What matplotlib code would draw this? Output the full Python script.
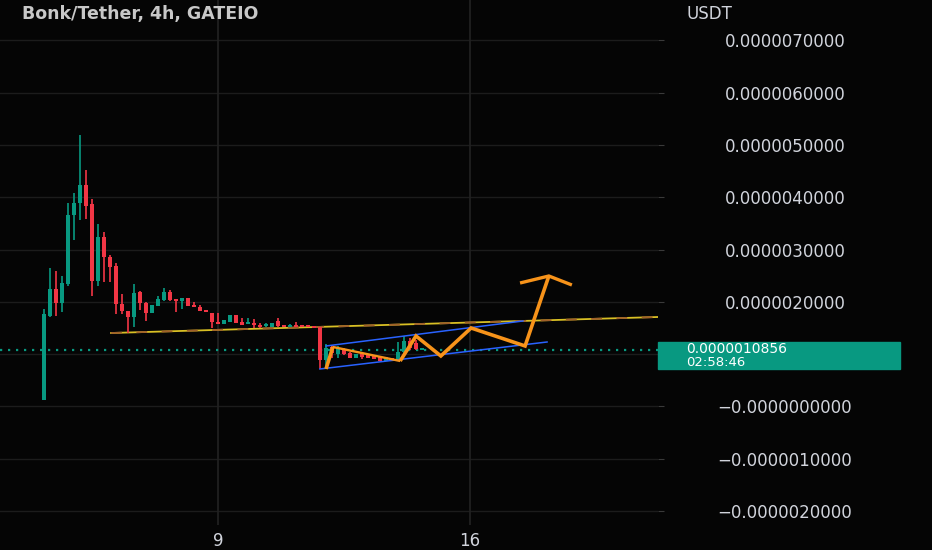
import matplotlib
matplotlib.use("Agg")
import matplotlib.pyplot as plt
from matplotlib.patches import Rectangle
import numpy as np

# 4h candles, prices in micro-USDT (x 1e-6)
first_candle_day = 4 + 1 / 6
candle_step = 1 / 6  # 4 hours in days
scale = 1e-6

opens = [0.124, 1.730, 2.247, 1.979, 2.342, 3.662, 3.891, 4.235, 3.872, 2.400,
         3.241, 2.858, 2.686, 1.960, 1.826, 1.711, 2.189, 1.979, 1.788, 1.922,
         2.036, 2.189, 2.055, 2.017, 2.075, 1.922, 1.902, 1.826, 1.788, 1.616,
         1.577, 1.616, 1.750, 1.616, 1.577, 1.597, 1.558, 1.539, 1.520, 1.635,
         1.558, 1.520, 1.558, 1.539, 1.539, 1.539, 1.520, 0.889, 1.138, 1.004,
         1.099, 1.023, 0.927, 1.023, 0.985, 0.966, 0.946, 0.870, 0.927, 0.889,
         1.042, 1.252, 1.214, 1.080]
highs = [1.864, 2.648, 2.591, 2.495, 3.891, 4.082, 5.191, 4.522, 3.967, 3.489,
         3.336, 2.897, 2.744, 2.151, 1.826, 2.342, 2.208, 1.998, 1.941, 2.113,
         2.266, 2.228, 2.055, 2.075, 2.075, 1.998, 1.941, 1.826, 1.788, 1.788,
         1.654, 1.750, 1.750, 1.692, 1.692, 1.673, 1.597, 1.597, 1.597, 1.692,
         1.558, 1.577, 1.616, 1.539, 1.539, 1.539, 1.520, 1.195, 1.176, 1.157,
         1.119, 1.042, 1.004, 1.023, 0.985, 0.966, 0.946, 0.946, 0.927, 1.233,
         1.348, 1.310, 1.272, 1.099]
lows = [0.124, 1.711, 1.730, 1.807, 2.304, 3.184, 3.566, 3.585, 2.113, 2.304,
        2.380, 2.380, 1.769, 1.769, 1.405, 1.520, 1.845, 1.635, 1.788, 1.922,
        2.017, 2.017, 1.807, 1.864, 1.922, 1.902, 1.826, 1.807, 1.501, 1.577,
        1.577, 1.616, 1.597, 1.558, 1.577, 1.501, 1.501, 1.520, 1.520, 1.520,
        1.520, 1.520, 1.520, 1.520, 1.520, 1.501, 0.717, 0.736, 0.927, 0.927,
        0.985, 0.927, 0.927, 0.908, 0.927, 0.908, 0.870, 0.870, 0.889, 0.889,
        1.023, 1.080, 1.080, 1.080]
closes = [1.769, 2.247, 1.979, 2.361, 3.662, 3.891, 4.235, 3.834, 2.400, 3.241,
          2.858, 2.667, 1.960, 1.826, 1.711, 2.170, 1.979, 1.788, 1.941, 2.055,
          2.189, 2.036, 2.017, 2.075, 1.922, 1.902, 1.826, 1.807, 1.616, 1.577,
          1.654, 1.750, 1.597, 1.558, 1.616, 1.558, 1.520, 1.577, 1.597, 1.539,
          1.520, 1.558, 1.520, 1.520, 1.520, 1.501, 0.889, 1.119, 1.023, 1.119,
          1.004, 0.927, 1.004, 0.946, 0.927, 0.908, 0.870, 0.946, 0.889, 1.042,
          1.252, 1.119, 1.099, 1.0856]

last_price_text = "0.0000010856"
countdown_text = "02:58:46"

# drawings (day, micro-USDT)
support_line = [(6.03, 1.405), (21.22, 1.711)]
channel_upper = [(12.0, 1.157), (17.47, 1.635)]
channel_lower = [(11.83, 0.717), (18.14, 1.233)]
projection_up = [(12.0, 0.717), (12.19, 1.138)]
projection_down = [(12.19, 1.138), (14.06, 0.870)]
projection_rest = [(14.06, 0.870), (14.5, 1.348), (15.19, 0.966), (16.03, 1.501),
                   (17.53, 1.157), (18.19, 2.495)]
arrow_head = [(17.39, 2.361), (18.19, 2.495), (18.83, 2.323)]

price_ticks = [7, 6, 5, 4, 3, 2, 1, 0, -1, -2]
price_tick_labels = ["0.0000070000", "0.0000060000", "0.0000050000", "0.0000040000",
                     "0.0000030000", "0.0000020000", "", "\u22120.0000000000",
                     "\u22120.0000010000", "\u22120.0000020000"]
day_ticks = [9, 16]
day_tick_labels = ["9", "16"]

bg = "#050505"
grid_color = "#1c1c1c"
up_color = "#089981"
down_color = "#f23645"
text_color = "#d1d4dc"
orange = "#f7931a"

W, H = 932, 550
fig = plt.figure(figsize=(W / 100, H / 100), dpi=100, facecolor=bg)
ax = fig.add_axes([0, 1 - 525 / H, 658 / W, 525 / H])
ax.set_facecolor(bg)
for s in ax.spines.values():
    s.set_visible(False)

ax.set_xlim(2.944, 21.222)
ax.set_ylim(-2.266 * scale, 7.772 * scale)

# grid
for t in price_ticks:
    ax.axhline(t * scale, color=grid_color, lw=1, zorder=0)
for d in day_ticks:
    ax.axvline(d, color="#222222", lw=1.2, zorder=0)

# support line (yellow with brown dashes)
sx, sy = zip(*support_line)
ax.plot(sx, np.array(sy) * scale, color="#d8bf24", lw=1.3, zorder=2)
ax.plot(sx, np.array(sy) * scale, color="#a0602a", lw=1.3, dashes=(6, 8), zorder=2)

# candles
o = np.array(opens) * scale
h = np.array(highs) * scale
l = np.array(lows) * scale
c = np.array(closes) * scale
x = first_candle_day + np.arange(len(opens)) * candle_step
colors = [up_color if cc >= oo else down_color for oo, cc in zip(o, c)]
body_bottom = np.minimum(o, c)
body_height = np.maximum(np.abs(c - o), 0.03 * scale)
ax.vlines(x, l, h, colors=colors, lw=1.2, zorder=3)
ax.bar(x, body_height, bottom=body_bottom, width=0.135, color=colors, zorder=4)

# last price dotted line
ax.axhline(closes[-1] * scale, color=up_color, lw=1.6, dashes=(1, 2.6), zorder=2)

# channel
for seg in (channel_upper, channel_lower):
    qx, qy = zip(*seg)
    ax.plot(qx, np.array(qy) * scale, color="#2962ff", lw=1.1, zorder=5)

# projection
for seg, lw in ((projection_up, 2.6), (projection_down, 1.7), (projection_rest, 2.6),
                (arrow_head, 2.4)):
    qx, qy = zip(*seg)
    ax.plot(qx, np.array(qy) * scale, color=orange, lw=lw, zorder=6,
            solid_joinstyle="miter", solid_capstyle="butt")

# axes ticks
ax.set_xticks(day_ticks)
ax.set_xticklabels(day_tick_labels)
ax.tick_params(axis="x", length=0, pad=5, labelsize=12, labelcolor=text_color)
ax.yaxis.tick_right()
ax.set_yticks([t * scale for t in price_ticks])
ax.set_yticklabels(price_tick_labels, ha="center")
ax.tick_params(axis="y", length=4.5, width=0.8, color="#3a3a3a", pad=86.9,
               labelsize=12, labelcolor=text_color)

fig.text(686 / W, 1 - 14 / H, "USDT", ha="left", va="center",
         fontsize=12, color=text_color)
fig.text(22 / W, 1 - 14 / H, "Bonk/Tether, 4h, GATEIO", ha="left", va="center",
         fontsize=12.5, fontweight="bold", color="#c8c8c8")

# last price label
fig.add_artist(Rectangle((658 / W, 1 - 369 / H), (900 - 658) / W, 27 / H,
                         transform=fig.transFigure, color=up_color, zorder=10))
fig.text(686 / W, 1 - 349 / H, last_price_text, ha="left", va="center",
         fontsize=10, color="white", zorder=11)
fig.text(686 / W, 1 - 362 / H, countdown_text, ha="left", va="center",
         fontsize=9.5, color="white", zorder=11)

fig.savefig("out.png", dpi=100, facecolor=bg)
